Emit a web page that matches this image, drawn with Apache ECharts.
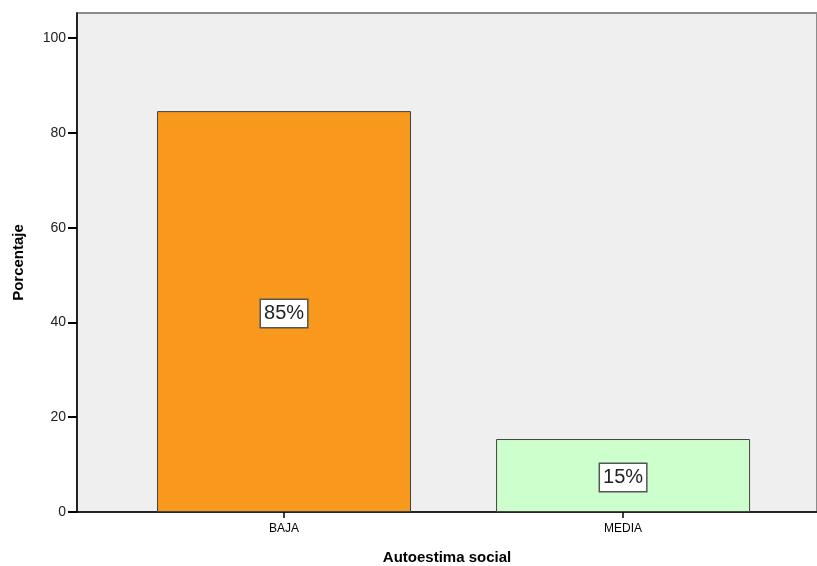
<!DOCTYPE html>
<html><head><meta charset="utf-8">
<script src="https://cdn.jsdelivr.net/npm/echarts@6/dist/echarts.min.js"></script>
<style>html,body{margin:0;padding:0;background:#fff}#c{width:817px;height:566px}</style>
</head><body><div id="c"></div>
<script>
const categories = ['BAJA', 'MEDIA'];
const values = [84.6, 15.4];
const barLabels = ['85%', '15%'];
const colors = ['#f8981d', '#ccffcc'];
const yTicks = [0, 20, 40, 60, 80, 100];
const xPositions = [0, 1];

const chart = echarts.init(document.getElementById('c'), null, {renderer: 'canvas'});
const font = '"Liberation Sans", Arial, sans-serif';
chart.setOption({
  animation: false,
  grid: {left: 77, right: 0, top: 13, bottom: 54, outerBoundsMode: 'none', containLabel: false, show: true, backgroundColor: '#efefef', borderColor: '#8c8c8c', borderWidth: 2},
  xAxis: {
    type: 'value', min: -0.6106, max: 1.572,
    name: 'Autoestima social', nameLocation: 'middle', nameGap: 38,
    nameTextStyle: {fontFamily: font, fontSize: 15, fontWeight: 'bold', color: '#000'},
    axisLine: {show: true, onZero: false, lineStyle: {color: '#000', width: 1.5}},
    axisTick: {show: true, length: 6, customValues: xPositions, lineStyle: {color: '#000', width: 1.5}},
    axisLabel: {customValues: xPositions, formatter: v => categories[Math.round(v)] || '', fontFamily: font, fontSize: 12, color: '#000', margin: 11},
    splitLine: {show: false}
  },
  yAxis: {
    type: 'value', min: 0, max: 105.3,
    name: 'Porcentaje', nameLocation: 'middle', nameGap: 51, nameRotate: 90,
    nameTextStyle: {fontFamily: font, fontSize: 15, fontWeight: 'bold', color: '#000'},
    axisLine: {show: true, onZero: false, lineStyle: {color: '#000', width: 1.5}},
    axisTick: {show: true, length: 9, customValues: yTicks, lineStyle: {color: '#000', width: 2}},
    axisLabel: {customValues: yTicks, fontFamily: font, fontSize: 14, color: '#222', margin: 11},
    splitLine: {show: false}
  },
  series: [{
    type: 'bar', barWidth: 254,
    data: values.map((v, i) => ({value: [xPositions[i], v], itemStyle: {color: colors[i]}})),
    itemStyle: {borderColor: '#444', borderWidth: 1},
    label: {
      show: true, position: 'inside', offset: [0, 2], formatter: p => barLabels[p.dataIndex],
      fontFamily: font, fontSize: 20, color: '#222',
      backgroundColor: '#fff', borderColor: '#555', borderWidth: 1.5, padding: [4, 3, 3, 3]
    }
  }]
});
</script></body></html>
